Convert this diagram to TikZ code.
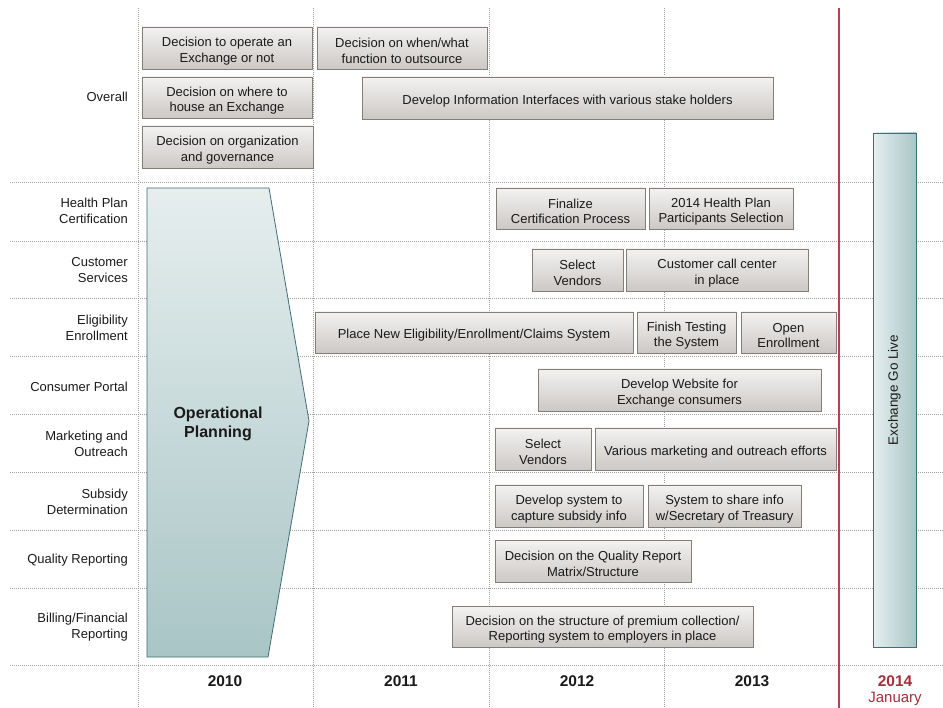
\documentclass[tikz,border=0pt]{standalone}
\usepackage{fontspec}
\setmainfont{Liberation Sans}
\definecolor{boxtop}{HTML}{F3F2F1}
\definecolor{boxbot}{HTML}{CCC8C5}
\definecolor{boxedge}{HTML}{847E79}
\definecolor{tealtop}{HTML}{E6EEEE}
\definecolor{tealbot}{HTML}{A9C5C6}
\definecolor{tealedge}{HTML}{416C78}
\definecolor{milestone}{HTML}{B8414F}
\definecolor{yearred}{HTML}{A3303D}
\definecolor{gridgray}{HTML}{A0A0A0}
\definecolor{ink}{HTML}{1A1A1A}
\begin{document}
\begin{tikzpicture}[x=1pt,y=-1pt,
  grid/.style={draw=gridgray, line width=0.6pt, dash pattern=on 0.8pt off 1.2pt},
  task/.style={draw=boxedge, line width=0.8pt, top color=boxtop, bottom color=boxbot,
    align=center, inner sep=0pt, text height=31pt, text=ink, font=\fontsize{13}{15.5}\selectfont},
  oneline/.style={text height=15pt},
  rowlabel/.style={anchor=east, align=right, inner sep=0pt, text=ink, font=\fontsize{13}{15.5}\selectfont},
  year/.style={inner sep=0pt, font=\fontsize{15.5}{17}\selectfont\bfseries},
  golive/.style={draw=tealedge, line width=0.8pt, left color=tealtop, right color=tealbot,
    inner sep=0pt, text=ink, font=\fontsize{13.5}{16}\selectfont}
]
\useasboundingbox (0,0) rectangle (943,708);

% grid: row separators and year columns
\foreach \yy in {182,241,298,356,414,472,530,588,665}
  \draw[grid] (10,\yy) -- (943,\yy);
\foreach \xx in {138,313,489,664}
  \draw[grid] (\xx,8) -- (\xx,708);
\draw[draw=milestone, line width=1.1pt] (839,8) -- (839,708);

% row labels
\node[rowlabel] (lOverall) at (128,97) {Overall};
\node[rowlabel] (lHealth) at (128,211) {Health Plan\\Certification};
\node[rowlabel] (lCustomer) at (128,270) {Customer\\Services};
\node[rowlabel] (lElig) at (128,328) {Eligibility\\Enrollment};
\node[rowlabel] (lPortal) at (128,387) {Consumer Portal};
\node[rowlabel] (lMarket) at (128,444) {Marketing and\\Outreach};
\node[rowlabel] (lSubsidy) at (128,502) {Subsidy\\Determination};
\node[rowlabel] (lQuality) at (128,560) {Quality Reporting};
\node[rowlabel] (lBilling) at (128,627) {Billing/Financial\\Reporting};

% year labels
\node[year, text=ink] (y2010) at (225,681) {2010};
\node[year, text=ink] (y2011) at (401,681) {2011};
\node[year, text=ink] (y2012) at (577,681) {2012};
\node[year, text=ink] (y2013) at (752,681) {2013};
\node[year, text=yearred] (y2014) at (895,681) {2014};
\node[inner sep=0pt, text=yearred, font=\fontsize{15}{17}\selectfont] (jan) at (895,699) {January};

% operational planning arrow
\shadedraw[draw=tealedge, line width=0.8pt, top color=tealtop, bottom color=tealbot]
  (147,188) -- (269,188) -- (309,421) -- (268,657) -- (147,657) -- cycle;
\node[align=center, inner sep=0pt, text=ink, font=\fontsize{16}{19}\selectfont\bfseries] (opplan) at (218,424) {Operational\\Planning};

% go-live bar
\node[golive, minimum width=43pt, minimum height=514pt] (live) at (894.5,390) {\rotatebox{90}{Exchange Go Live}};

% overall
\node[task, minimum width=170pt, minimum height=42pt] (b1) at (227,48) {Decision to operate an\\Exchange or not};
\node[task, minimum width=170pt, minimum height=42pt] (b2) at (402,48) {Decision on when/what\\function to outsource};
\node[task, minimum width=170pt, minimum height=41pt] (b3) at (227,97.5) {Decision on where to\\house an Exchange};
\node[task, oneline, minimum width=411pt, minimum height=42pt] (b4) at (567.5,98) {Develop Information Interfaces with various stake holders};
\node[task, minimum width=171pt, minimum height=42pt] (b5) at (227.5,147) {Decision on organization\\and governance};

% health plan certification
\node[task, minimum width=149pt, minimum height=41pt] (h1) at (570.5,208.5) {Finalize\\Certification Process};
\node[task, minimum width=144pt, minimum height=41pt] (h2) at (721,208.5) {2014 Health Plan\\Participants Selection};

% customer services
\node[task, minimum width=91pt, minimum height=42pt] (c1) at (577.5,270) {Select\\Vendors};
\node[task, minimum width=182pt, minimum height=42pt] (c2) at (717,270) {Customer call center\\in place};

% eligibility enrollment
\node[task, oneline, minimum width=318pt, minimum height=41pt] (e1) at (474,332.5) {Place New Eligibility/Enrollment/Claims System};
\node[task, minimum width=99pt, minimum height=41pt] (e2) at (686.5,332.5) {Finish Testing\\the System};
\node[task, minimum width=95pt, minimum height=41pt] (e3) at (788.5,332.5) {Open\\Enrollment};

% consumer portal
\node[task, minimum width=283pt, minimum height=42pt] (p1) at (679.5,390) {Develop Website for\\Exchange consumers};

% marketing and outreach
\node[task, minimum width=96pt, minimum height=42pt] (m1) at (543,449) {Select\\Vendors};
\node[task, oneline, minimum width=241pt, minimum height=42pt] (m2) at (715.5,449) {Various marketing and outreach efforts};

% subsidy determination
\node[task, minimum width=148pt, minimum height=42pt] (s1) at (569,506) {Develop system to\\capture subsidy info};
\node[task, minimum width=153pt, minimum height=42pt] (s2) at (724.5,506) {System to share info\\w/Secretary of Treasury};

% quality reporting
\node[task, minimum width=196pt, minimum height=42pt] (q1) at (593,561) {Decision on the Quality Report\\Matrix/Structure};

% billing / financial reporting
\node[task, minimum width=301pt, minimum height=41pt] (f1) at (602.5,626.5) {Decision on the structure of premium collection/\\Reporting system to employers in place};
\end{tikzpicture}
\end{document}
